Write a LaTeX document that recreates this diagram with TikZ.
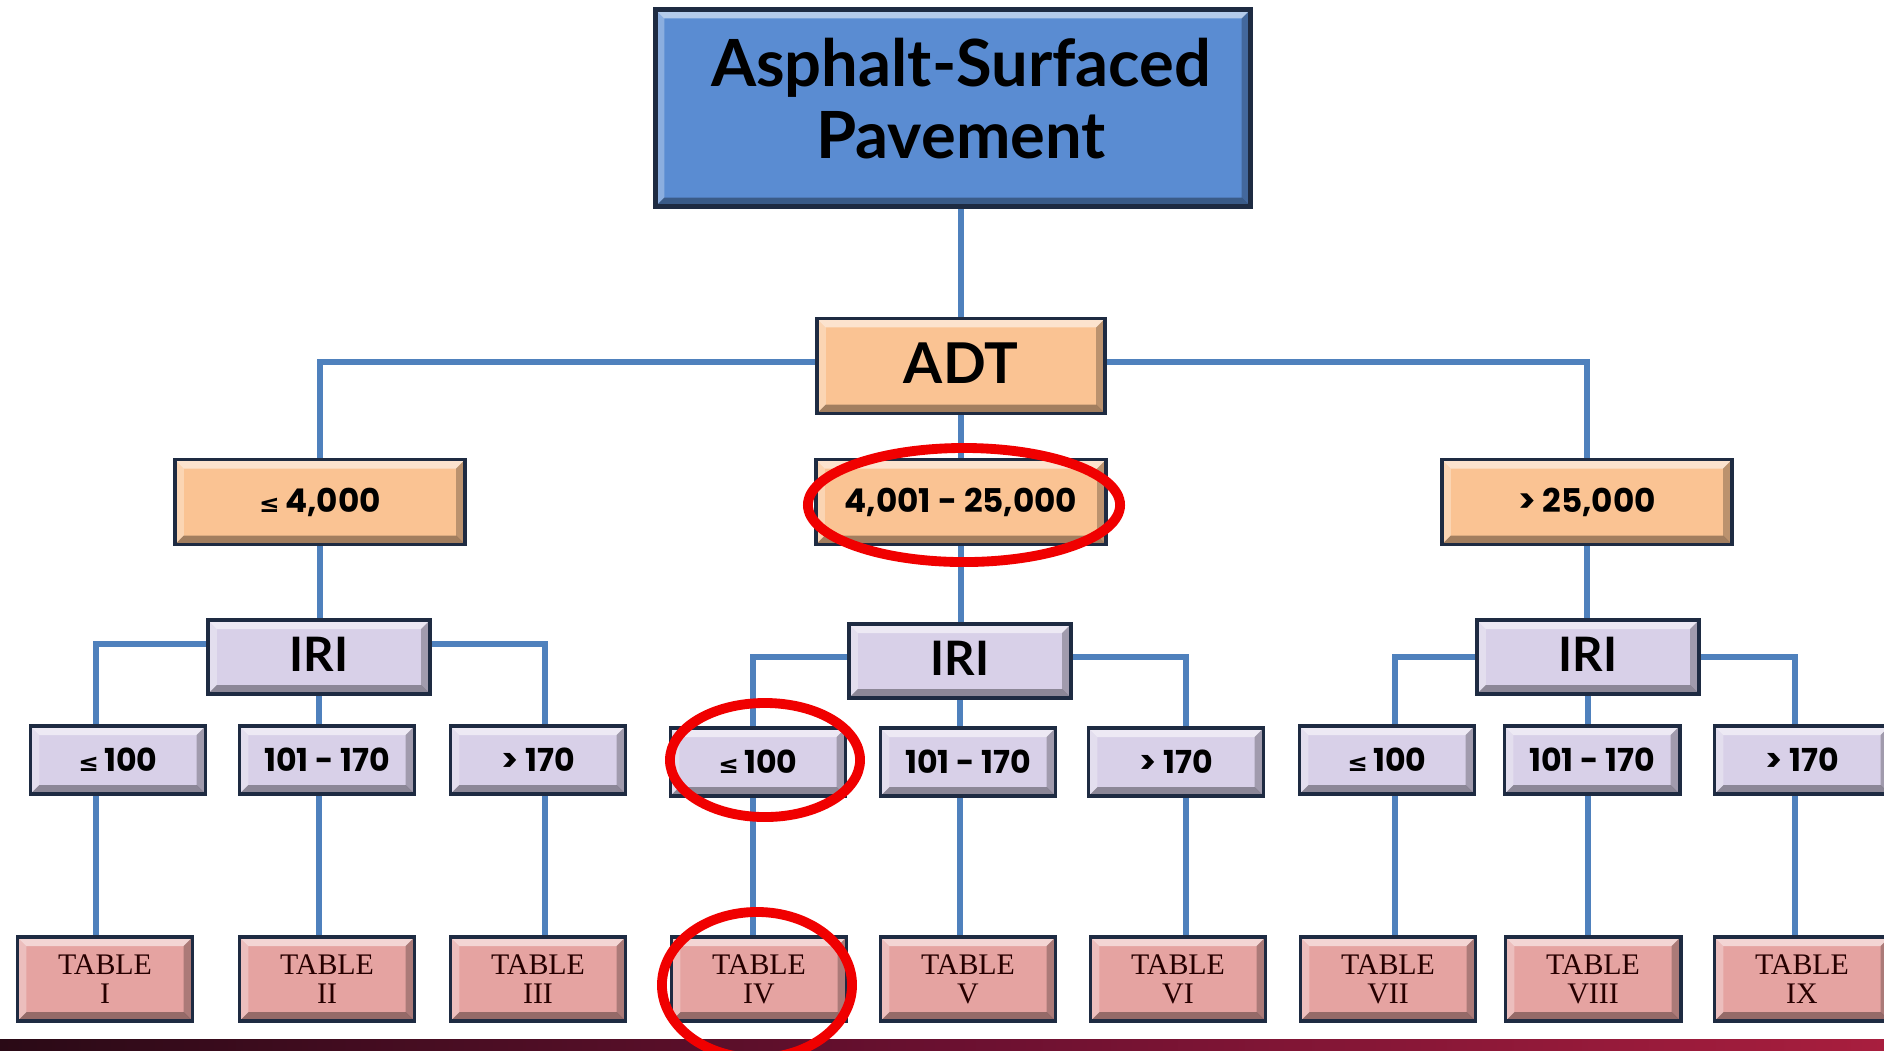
\documentclass[tikz,border=0pt]{standalone}
\usepackage{fontspec}
\setmainfont{Liberation Serif}
\newfontfamily\headfont{Lato}
\newfontfamily\numfont{Poppins}
\newfontfamily\symfont{DejaVu Sans}
\usetikzlibrary{calc}
\pgfdeclarelayer{bg}
\pgfsetlayers{bg,main}
\definecolor{navyB}{HTML}{1E2B42}
\definecolor{blueT}{HTML}{5A8CD2}
\definecolor{peach}{HTML}{FAC393}
\definecolor{lav}{HTML}{D8D0E8}
\definecolor{pinkT}{HTML}{E5A3A1}
\definecolor{connB}{HTML}{4F81BD}
\definecolor{ringR}{HTML}{F00000}
\definecolor{barL}{HTML}{2A0A16}
\definecolor{barM}{HTML}{6A1030}
\definecolor{barR}{HTML}{A81E3E}
\newcommand{\lesym}{{\symfont\fontsize{7}{7}\selectfont ≤}\,}
\tikzset{
  bevel/.style={path picture={
    \coordinate (pNW) at (path picture bounding box.north west);
    \coordinate (pNE) at (path picture bounding box.north east);
    \coordinate (pSW) at (path picture bounding box.south west);
    \coordinate (pSE) at (path picture bounding box.south east);
    \fill[white,opacity=.55] (pNW) -- (pNE) -- ([shift={(-#1,-#1)}]pNE) -- ([shift={(#1,-#1)}]pNW) -- cycle;
    \fill[white,opacity=.3] (pNW) -- (pSW) -- ([shift={(#1,#1)}]pSW) -- ([shift={(#1,-#1)}]pNW) -- cycle;
    \fill[black,opacity=.25] (pNE) -- (pSE) -- ([shift={(-#1,#1)}]pSE) -- ([shift={(-#1,-#1)}]pNE) -- cycle;
    \fill[black,opacity=.35] (pSW) -- (pSE) -- ([shift={(-#1,#1)}]pSE) -- ([shift={(#1,#1)}]pSW) -- cycle;
  }},
  box/.style={draw=navyB, line width=1.1pt, inner sep=0pt, align=center, text=black, bevel=0.09cm},
  topbox/.style={box, fill=blueT, minimum width=5.95cm, minimum height=1.97cm, line width=1.6pt,
    font=\headfont\bfseries\fontsize{18.5}{18.5}\selectfont},
  adtbox/.style={box, fill=peach, minimum width=2.88cm, minimum height=0.95cm,
    font=\headfont\bfseries\fontsize{16}{16}\selectfont},
  rangebox/.style={box, fill=peach, minimum width=2.90cm, minimum height=0.85cm,
    font=\numfont\bfseries\fontsize{9.3}{9.3}\selectfont},
  iribox/.style={box, fill=lav, minimum width=2.22cm, minimum height=0.74cm,
    font=\headfont\bfseries\fontsize{13.5}{13.5}\selectfont},
  valbox/.style={box, fill=lav, minimum width=1.75cm, minimum height=0.68cm,
    font=\numfont\bfseries\fontsize{9}{9}\selectfont},
  tabbox/.style={box, fill=pinkT, minimum width=1.75cm, minimum height=0.84cm,
    text=black!85!red, font=\fontsize{8.5}{8.2}\selectfont},
  conn/.style={draw=connB, line width=1.45pt},
  ring/.style={draw=ringR, line width=2.8pt},
}
\newcommand{\up}[2]{\raisebox{#1}{#2}}
\begin{document}
\begin{tikzpicture}[x=0.01cm,y=-0.01cm]
\useasboundingbox (0,0) rectangle (1884,1050);
\clip (0,0) rectangle (1884,1050);

% nodes
\node[topbox] (top) at (953,108) {\up{0.03cm}{\begin{tabular}{@{}c@{}}\hspace*{0.16cm}Asphalt-Surfaced\\[1.5pt]\hspace*{0.16cm}Pavement\end{tabular}}};
\node[adtbox] (adt) at (961,366) {\up{0.05cm}{ADT}};

\node[rangebox] (rA) at (320,502) {\lesym4,000};
\node[rangebox] (rB) at (961,502) {4,001 - 25,000};
\node[rangebox] (rC) at (1587,502) {> 25,000};

\node[iribox] (iA) at (319,657) {\up{0.05cm}{IRI}};
\node[iribox] (iB) at (960,661) {\up{0.05cm}{IRI}};
\node[iribox] (iC) at (1588,657) {\up{0.05cm}{IRI}};

\node[valbox] (vA1) at (118,760) {\lesym100};
\node[valbox] (vA2) at (327,760) {101 - 170};
\node[valbox] (vA3) at (538,760) {> 170};
\node[valbox] (vB1) at (758,762) {\lesym100};
\node[valbox] (vB2) at (968,762) {101 - 170};
\node[valbox] (vB3) at (1176,762) {> 170};
\node[valbox] (vC1) at (1387,760) {\lesym100};
\node[valbox] (vC2) at (1592,760) {101 - 170};
\node[valbox] (vC3) at (1802,760) {> 170};

\node[tabbox] (tI)    at (105,979)  {TABLE\\I};
\node[tabbox] (tII)   at (327,979)  {TABLE\\II};
\node[tabbox] (tIII)  at (538,979)  {TABLE\\III};
\node[tabbox] (tIV)   at (759,979)  {TABLE\\IV};
\node[tabbox] (tV)    at (968,979)  {TABLE\\V};
\node[tabbox] (tVI)   at (1178,979) {TABLE\\VI};
\node[tabbox] (tVII)  at (1388,979) {TABLE\\VII};
\node[tabbox] (tVIII) at (1593,979) {TABLE\\VIII};
\node[tabbox] (tIX)   at (1802,979) {TABLE\\IX};

% background, bar and connectors
\begin{pgfonlayer}{bg}
\fill[white] (0,0) rectangle (1884,1050);
\shade[left color=barL, right color=barR, middle color=barM] (0,1039) rectangle (1884,1050);

\draw[conn] (top.south -| adt.north) -- (adt.north);
\draw[conn] (rA.north) |- ([yshift=0.04cm]adt.west);
\draw[conn] (rC.north) |- ([yshift=0.04cm]adt.east);
\draw[conn] (adt.south) -- (rB.north);
\draw[conn] (rA.south) -- (iA.north -| rA.south);
\draw[conn] (rB.south) -- (iB.north -| rB.south);
\draw[conn] (rC.south) -- (iC.north -| rC.south);

\draw[conn] ([yshift=0.13cm]iA.west) -| ([xshift=-0.09cm]tI.north);
\draw[conn] (iA.south) -- (iA.south |- tII.north);
\draw[conn] ([yshift=0.13cm]iA.east) -| ([xshift=0.07cm]tIII.north);

\draw[conn] ([yshift=0.04cm]iB.west) -| ([xshift=-0.06cm]tIV.north);
\draw[conn] (iB.south) -- (iB.south |- tV.north);
\draw[conn] ([yshift=0.04cm]iB.east) -| ([xshift=0.08cm]tVI.north);

\draw[conn] (iC.west) -| ([xshift=0.07cm]tVII.north);
\draw[conn] (iC.south) -- (iC.south |- tVIII.north);
\draw[conn] (iC.east) -| ([xshift=-0.07cm]tIX.north);
\end{pgfonlayer}

% red rings
\draw[ring] (964,505) ellipse [x radius=1.56cm, y radius=0.57cm];
\draw[ring] (765,760) ellipse [x radius=0.95cm, y radius=0.57cm];
\draw[ring] (757,985) ellipse [x radius=0.95cm, y radius=0.73cm];
\end{tikzpicture}
\end{document}
